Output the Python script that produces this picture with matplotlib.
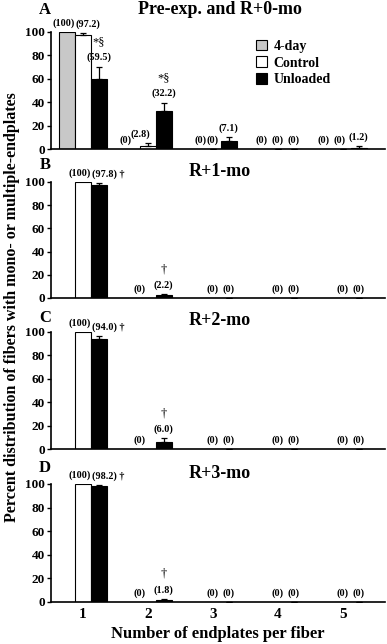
import numpy as np
import matplotlib.pyplot as plt
from matplotlib.patches import Patch

plt.rcParams['font.family'] = ['Liberation Serif', 'DejaVu Serif']
plt.rcParams['font.weight'] = 'bold'
plt.rcParams['axes.labelweight'] = 'bold'

groups = [1, 2, 3, 4, 5]
series = ['4-day', 'Control', 'Unloaded']
colors = ['#c8c8c8', 'white', 'black']

# panel A: pre-exposure and R+0-mo
a_4day = [100, 0, 0, 0, 0]
a_ctrl = [97.2, 2.8, 0, 0, 0]
a_unl = [59.5, 32.2, 7.1, 0, 1.2]
a_ctrl_err = [2.0, 2.5, 0, 0, 0]
a_unl_err = [11.0, 7.5, 3.5, 0, 1.0]
a_unl_mark = ['*§', '*§', '', '', '']

# panels B-D: control and unloaded only
recov_titles = ['R+1-mo', 'R+2-mo', 'R+3-mo']
recov_letters = ['B', 'C', 'D']
recov_ctrl = [[100, 0, 0, 0, 0], [100, 0, 0, 0, 0], [100, 0, 0, 0, 0]]
recov_unl = [[97.8, 2.2, 0, 0, 0], [94.0, 6.0, 0, 0, 0], [98.2, 1.8, 0, 0, 0]]
recov_unl_err = [[1.5, 1.5, 0, 0, 0], [2.5, 3.0, 0, 0, 0], [1.0, 1.0, 0, 0, 0]]

W, H = 387, 644
fig = plt.figure(figsize=(W / 100, H / 100), dpi=100)

def px_axes(top, bottom, left=51, right=385):
    return fig.add_axes([left / W, 1 - bottom / H, (right - left) / W, (bottom - top) / H])

def fmt(v):
    return '(%d)' % v if v in (0, 100) else '(%.1f)' % v

def style(ax, show_xt):
    ax.set_xlim(0.51, 5.65)
    ax.set_ylim(0, 100)
    ax.set_yticks([0, 20, 40, 60, 80, 100])
    ax.spines['top'].set_visible(False)
    ax.spines['right'].set_visible(False)
    for s in ['left', 'bottom']:
        ax.spines[s].set_linewidth(1.2)
    ax.tick_params(axis='y', length=3, width=1, pad=1.5, labelsize=9.5)
    ax.tick_params(axis='x', length=0, pad=4, labelsize=11)
    ax.set_xticks(groups)
    if not show_xt:
        ax.set_xticklabels([])

def label(ax, x, top, text, mark=''):
    ax.text(x, top + 3.5, text, ha='center', va='bottom', fontsize=7.3, clip_on=False)
    if mark:
        ax.text(x, top + 16, mark, ha='center', va='bottom', fontsize=9,
                fontweight='normal', clip_on=False)

w = 0.245
x = np.array(groups, dtype=float)
ekw = dict(elinewidth=0.9, capsize=2.5, capthick=0.9)

# panel A
ax = px_axes(32, 149)
style(ax, False)
ax.bar(x - w, a_4day, w, color=colors[0], edgecolor='black', linewidth=0.8)
ax.bar(x, a_ctrl, w, color=colors[1], edgecolor='black', linewidth=0.8,
       yerr=[np.zeros(5), a_ctrl_err], error_kw=ekw)
ax.bar(x + w, a_unl, w, color=colors[2], edgecolor='black', linewidth=0.8,
       yerr=[np.zeros(5), a_unl_err], error_kw=ekw)
shift_4d = [-0.05, -0.1, 0.05, 0, -0.05]
shift_c = [0.08, -0.12, 0, 0, -0.05]
for i in range(5):
    label(ax, x[i] - w + shift_4d[i], a_4day[i], fmt(a_4day[i]))
    label(ax, x[i] + shift_c[i], a_ctrl[i] + a_ctrl_err[i], fmt(a_ctrl[i]))
    label(ax, x[i] + w, a_unl[i] + a_unl_err[i], fmt(a_unl[i]), a_unl_mark[i])
handles = [Patch(facecolor=c, edgecolor='black', linewidth=0.8) for c in colors]
ax.legend(handles, series, loc='upper left', bbox_to_anchor=(0.575, 1.04), frameon=False,
          handlelength=0.8, handleheight=0.8, handletextpad=0.5, labelspacing=0.25,
          prop={'size': 10, 'weight': 'bold'})
fig.text(45 / W, 1 - 10 / H, 'A', fontsize=12, ha='center', va='center')
fig.text(220 / W, 1 - 10 / H, 'Pre-exp. and R+0-mo', fontsize=13, ha='center', va='center')

# panels B-D
tops = [182, 332, 484]
bots = [298, 449, 602]
title_y = [172, 320, 473]
letter_y = [165, 318, 468]
for k in range(3):
    ax = px_axes(tops[k], bots[k])
    style(ax, k == 2)
    ax.bar(x, recov_ctrl[k], w, color='white', edgecolor='black', linewidth=0.8)
    ax.bar(x + w, recov_unl[k], w, color='black', edgecolor='black', linewidth=0.8,
           yerr=[np.zeros(5), recov_unl_err[k]], error_kw=ekw)
    for i in range(5):
        cx = x[i] - 0.05 if i == 0 else (x[i] - 0.12 if i == 1 else x[i])
        label(ax, cx, recov_ctrl[k][i], fmt(recov_ctrl[k][i]))
        top = recov_unl[k][i] + recov_unl_err[k][i]
        if i == 0:
            label(ax, x[i] + w + 0.14, top, fmt(recov_unl[k][i]) + ' †')
        elif i == 1:
            label(ax, x[i] + w, top, fmt(recov_unl[k][i]), '†')
        else:
            label(ax, x[i] + w, top, fmt(recov_unl[k][i]))
    fig.text(45 / W, 1 - letter_y[k] / H, recov_letters[k], fontsize=12, ha='center', va='center')
    fig.text(220 / W, 1 - title_y[k] / H, recov_titles[k], fontsize=13, ha='center', va='center')
    if k == 2:
        ax.set_xlabel('Number of endplates per fiber', fontsize=12, labelpad=4)

fig.text(12 / W, 1 - 307 / H, 'Percent distribution of fibers with mono- or multiple-endplates',
         rotation=90, fontsize=11.5, ha='center', va='center')

fig.savefig('out.png', dpi=100)
